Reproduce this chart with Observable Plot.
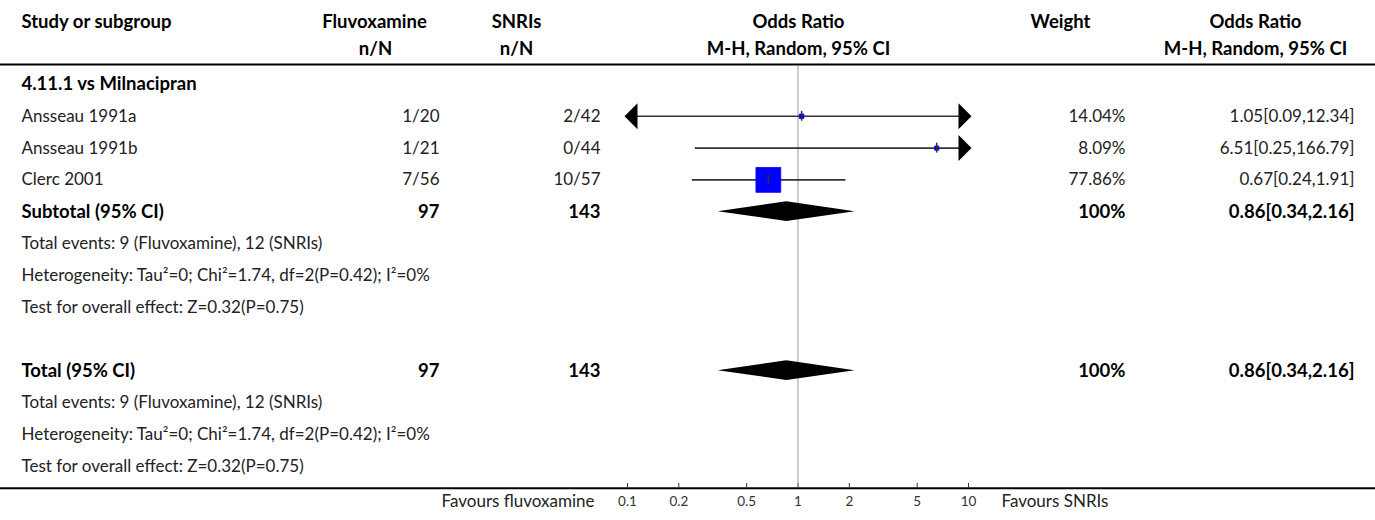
<!DOCTYPE html>
<html><head><meta charset="utf-8">
<script src="https://cdn.jsdelivr.net/npm/d3@7"></script>
<script src="https://cdn.jsdelivr.net/npm/@observablehq/plot@0.6"></script>
<style>html,body{margin:0;padding:0;background:#fff}svg{display:block}</style>
</head><body><div id="chart"></div>
<script>
// ---- data ----
const subgroupTitle = "4.11.1 vs Milnacipran";
const studyNames = ["Ansseau 1991a", "Ansseau 1991b", "Clerc 2001"];
const fluvEvents = [1, 1, 7];
const fluvTotals = [20, 21, 56];
const snriEvents = [2, 0, 10];
const snriTotals = [42, 44, 57];
const oddsRatios = [1.05, 6.51, 0.67];
const ciLower = [0.09, 0.25, 0.24];
const ciUpper = [12.34, 166.79, 1.91];
const weights = [14.04, 8.09, 77.86];
const pooledLabels = ["Subtotal (95% CI)", "Total (95% CI)"];
const pooledFluvTotal = [97, 97];
const pooledSnriTotal = [143, 143];
const pooledOR = [0.86, 0.86];
const pooledLower = [0.34, 0.34];
const pooledUpper = [2.16, 2.16];
const pooledWeight = ["100%", "100%"];
const statLines = [
  "Total events: 9 (Fluvoxamine), 12 (SNRIs)",
  "Heterogeneity: Tau\u00B2=0; Chi\u00B2=1.74, df=2(P=0.42); I\u00B2=0%",
  "Test for overall effect: Z=0.32(P=0.75)"
];
const xTicks = [0.1, 0.2, 0.5, 1, 2, 5, 10];
const xTickLabels = ["0.1", "0.2", "0.5", "1", "2", "5", "10"];
const leftLabel = "Favours fluvoxamine";
const rightLabel = "Favours SNRIs";

// ---- table structure ----
const f2 = v => v.toFixed(2);
const ciText = (o, l, u) => `${f2(o)}[${f2(l)},${f2(u)}]`;
const XMIN = 0.1, XMAX = 10;

const studyRows = studyNames.map((s, i) => ({
  row: i + 1, study: s,
  fluv: `${fluvEvents[i]}/${fluvTotals[i]}`,
  snri: `${snriEvents[i]}/${snriTotals[i]}`,
  weight: `${f2(weights[i])}%`, w: weights[i],
  ci: ciText(oddsRatios[i], ciLower[i], ciUpper[i]),
  or: oddsRatios[i], lo: ciLower[i], hi: ciUpper[i],
  bold: false
}));
const pooledRows = pooledLabels.map((s, i) => ({
  row: i === 0 ? 4 : 9, study: s,
  fluv: String(pooledFluvTotal[i]), snri: String(pooledSnriTotal[i]),
  weight: pooledWeight[i], ci: ciText(pooledOR[i], pooledLower[i], pooledUpper[i]),
  or: pooledOR[i], lo: pooledLower[i], hi: pooledUpper[i], bold: true
}));
const statRows = [];
statLines.forEach((t, i) => statRows.push({row: 5 + i, study: t, bold: false}));
statLines.forEach((t, i) => statRows.push({row: 10 + i, study: t, bold: false}));
const tableRows = [{row: 0, study: subgroupTitle, bold: true}, ...studyRows, ...pooledRows, ...statRows];

const diamondPts = pooledRows.flatMap((d, i) => [
  {z: i, x: d.lo, y1: d.row, y2: d.row},
  {z: i, x: d.or, y1: d.row - 0.31, y2: d.row + 0.31},
  {z: i, x: d.hi, y1: d.row, y2: d.row}
]);
const leftArrows = studyRows.filter(d => d.lo < XMIN);
const rightArrows = studyRows.filter(d => d.hi > XMAX);
const arrowLeft = {draw(ctx) { ctx.moveTo(10, -13); ctx.lineTo(-3, 0); ctx.lineTo(10, 13); ctx.closePath(); }};
const arrowRight = {draw(ctx) { ctx.moveTo(-10, -13); ctx.lineTo(3, 0); ctx.lineTo(-10, 13); ctx.closePath(); }};
const tickData = xTicks.map((v, i) => ({v, label: xTickLabels[i]}));

const FONT = "Lato, 'Source Sans Pro', sans-serif";
const TXT = "#222";
const FS = 17, FSB = 18.5;
const H1 = -1.95, H2 = -1.1, HRULE = -0.63, BRULE = 12.70;

function col(data, key, dx, anchor) {
  const base = {y: "row", text: key, frameAnchor: "left", dx, textAnchor: anchor, fontFamily: FONT, fill: TXT};
  return [
    Plot.text(data.filter(d => !d.bold && d[key] != null), {...base, fontSize: FS}),
    Plot.text(data.filter(d => d.bold && d[key] != null), {...base, fontSize: FSB, fontWeight: "bold", fill: "#000"})
  ];
}
const headers1 = [
  {t: "Study or subgroup", dx: 21, a: "start"},
  {t: "Fluvoxamine", dx: 374, a: "middle"},
  {t: "SNRIs", dx: 516, a: "middle"},
  {t: "Odds Ratio", dx: 798, a: "middle"},
  {t: "Weight", dx: 1060, a: "middle"},
  {t: "Odds Ratio", dx: 1255, a: "middle"}
];
const headers2 = [
  {t: "n/N", dx: 375, a: "middle"},
  {t: "n/N", dx: 516, a: "middle"},
  {t: "M-H, Random, 95% CI", dx: 798, a: "middle"},
  {t: "M-H, Random, 95% CI", dx: 1255, a: "middle"}
];
const headerMarks = [...headers1.map(h => ({...h, row: H1})), ...headers2.map(h => ({...h, row: H2}))]
  .map(h => Plot.text([h], {y: "row", text: "t", frameAnchor: "left", dx: h.dx, textAnchor: h.a,
    fontFamily: FONT, fontSize: FSB, fontWeight: "bold", fill: "#000"}));

const chart = Plot.plot({
  width: 1375, height: 520,
  marginTop: 66, marginBottom: 37, marginLeft: 0, marginRight: 0,
  style: {fontFamily: FONT, background: "#fff", color: TXT},
  x: {type: "log", domain: [XMIN, XMAX], range: [627, 968]},
  y: {domain: [0, 12], range: [84, 465.6], axis: null},
  r: {type: "linear", domain: [0, 100], range: [0, 18]},
  marks: [
    Plot.ruleY([HRULE], {stroke: "#000", strokeWidth: 2}),
    Plot.ruleY([BRULE], {stroke: "#000", strokeWidth: 2}),
    Plot.ruleX([1], {stroke: "#999", strokeWidth: 1}),
    Plot.ruleY(studyRows, {y: "row", x1: d => Math.max(d.lo, XMIN), x2: d => Math.min(d.hi, XMAX), stroke: "#333", strokeWidth: 1.6}),
    Plot.dot(studyRows, {x: "or", y: "row", r: d => Math.max(d.w, 13), symbol: "square", fill: "#0000ff", stroke: "#0000ff", strokeWidth: 0.8}),
    Plot.ruleX(studyRows, {x: "or", y1: d => d.row - 0.155, y2: d => d.row + 0.155, stroke: "#333", strokeWidth: 1.5}),
    Plot.dot(leftArrows, {x: () => XMIN, y: "row", symbol: arrowLeft, fill: "#000", r: 5}),
    Plot.dot(rightArrows, {x: () => XMAX, y: "row", symbol: arrowRight, fill: "#000", r: 5}),
    Plot.areaY(diamondPts, {x: "x", y1: "y1", y2: "y2", z: "z", fill: "#000"}),
    Plot.axisX({ticks: xTicks, anchor: "bottom", tickFormat: () => "", tickSize: 5, stroke: "#333", label: null}),
    Plot.text(tickData, {x: "v", text: "label", frameAnchor: "bottom", dy: 22, fontSize: 13.5, fill: "#333", fontFamily: FONT}),
    Plot.text([leftLabel], {frameAnchor: "bottom-left", dx: 594, dy: 23, text: d => d, textAnchor: "end", fontSize: FS, fill: TXT}),
    Plot.text([rightLabel], {frameAnchor: "bottom-left", dx: 1001, dy: 23, text: d => d, textAnchor: "start", fontSize: FS, fill: TXT}),
    ...col(tableRows, "study", 21, "start"),
    ...col(tableRows, "fluv", 439, "end"),
    ...col(tableRows, "snri", 600, "end"),
    ...col(tableRows, "weight", 1125, "end"),
    ...col(tableRows, "ci", 1354, "end"),
    ...headerMarks
  ]
});
document.getElementById("chart").appendChild(chart);
</script>
</body></html>
